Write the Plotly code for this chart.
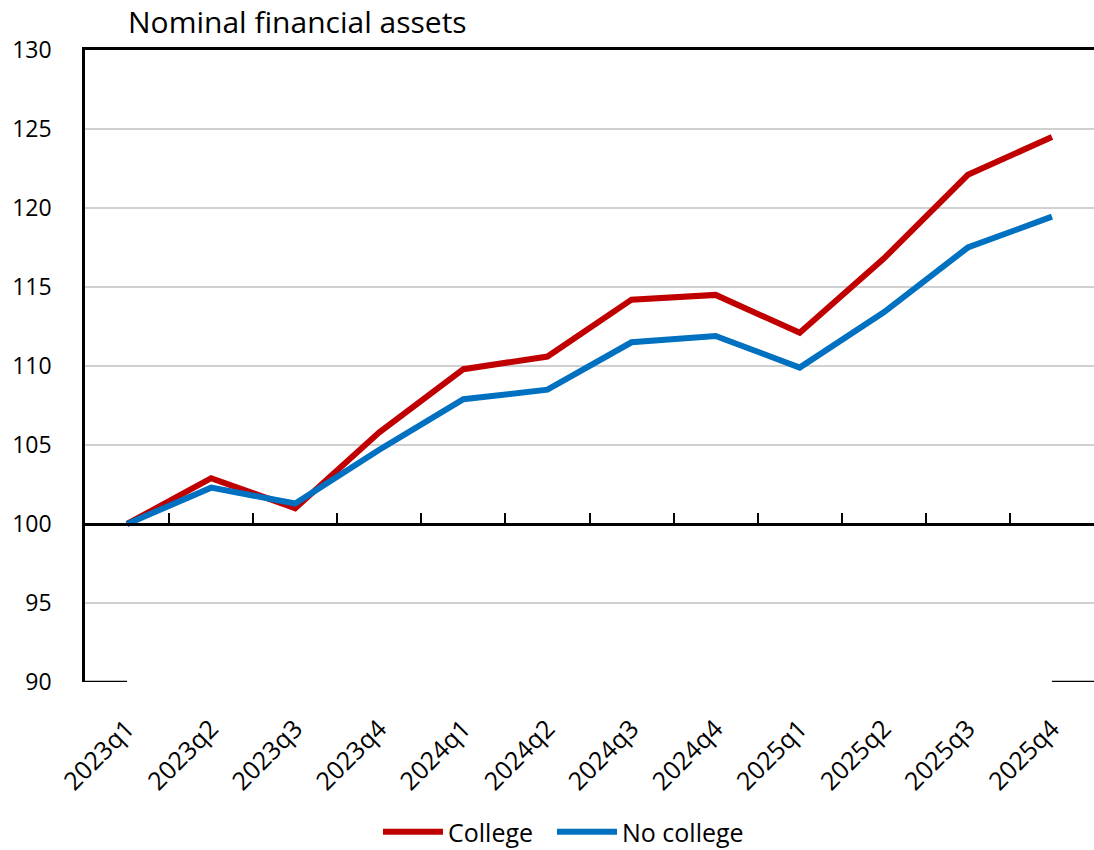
import plotly.graph_objects as go

quarters = ["2023q1", "2023q2", "2023q3", "2023q4", "2024q1", "2024q2",
            "2024q3", "2024q4", "2025q1", "2025q2", "2025q3", "2025q4"]
college = [100.0, 102.9, 101.0, 105.8, 109.8, 110.6, 114.2, 114.5, 112.1, 116.8, 122.1, 124.5]
no_college = [100.0, 102.3, 101.3, 104.7, 107.9, 108.5, 111.5, 111.9, 109.9, 113.4, 117.5, 119.45]
y_ticks = [90, 95, 100, 105, 110, 115, 120, 125, 130]

FONT = "Open Sans"
RED = "#C00000"
BLUE = "#0070C0"

fig = go.Figure()
fig.add_trace(go.Scatter(x=quarters, y=college, name="College", mode="lines",
                         line=dict(color=RED, width=6), legend="legend"))
fig.add_trace(go.Scatter(x=quarters, y=no_college, name="No college", mode="lines",
                         line=dict(color=BLUE, width=6), legend="legend2"))
# invisible traces to activate the axis drawn at 100 and the top border axis
fig.add_trace(go.Scatter(x=quarters, y=college, xaxis="x2", mode="lines",
                         line=dict(width=0), showlegend=False, hoverinfo="skip", opacity=0))
fig.add_trace(go.Scatter(x=quarters, y=college, xaxis="x3", mode="lines",
                         line=dict(width=0), showlegend=False, hoverinfo="skip", opacity=0))

W, H = 1094, 850
xr = [-0.5, 11.5]
legend_style = dict(orientation="h", xref="container", xanchor="left",
                    y=18 / H, yref="container", yanchor="middle",
                    font=dict(size=25, family=FONT, color="black"),
                    itemwidth=60, bgcolor="rgba(0,0,0,0)")
fig.update_layout(
    width=W, height=H,
    margin=dict(l=85, r=0, t=50, b=168),
    paper_bgcolor="white", plot_bgcolor="white",
    font=dict(family=FONT, color="black"),
    title=dict(text="Nominal financial assets", x=128 / W, xref="container", xanchor="left",
               y=1 - 33 / H, yref="container", yanchor="bottom",
               font=dict(size=30, family=FONT, color="black")),
    xaxis=dict(type="category", range=xr, showgrid=False, showline=False, ticks="",
               tickangle=-45, tickfont=dict(size=25, family=FONT, color="black"),
               ticklabelstandoff=26, zeroline=False),
    xaxis2=dict(type="category", range=xr, overlaying="x", anchor="free", position=0.25,
                showgrid=False, showline=True, linecolor="black", linewidth=2.5,
                ticks="inside", ticklen=10, tickwidth=2, tickcolor="black",
                tickson="boundaries", showticklabels=False),
    xaxis3=dict(type="category", range=xr, overlaying="x", side="top",
                showgrid=False, showline=True, linecolor="black", linewidth=2.5,
                ticks="", showticklabels=False),
    yaxis=dict(range=[90, 130], tickvals=y_ticks, showgrid=True, gridcolor="#D0D0D0",
               gridwidth=1.5, showline=True, linecolor="black", linewidth=2.5,
               ticks="", zeroline=False, ticklabelstandoff=26,
               tickfont=dict(size=23, family=FONT, color="black")),
    legend=dict(x=378 / W, **legend_style),
    legend2=dict(x=552 / W, **legend_style),
    showlegend=True,
)

# black axis-line remnants at the bottom corners (Excel style)
fig.add_shape(type="line", xref="x", yref="y", x0=-0.5, x1=0, y0=90, y1=90,
              line=dict(color="black", width=2.5))
fig.add_shape(type="line", xref="x", yref="y", x0=11, x1=11.5, y0=90, y1=90,
              line=dict(color="black", width=2.5))

fig.write_html("out.html", config={"displayModeBar": False},
               post_script="document.body.style.margin='0';")
